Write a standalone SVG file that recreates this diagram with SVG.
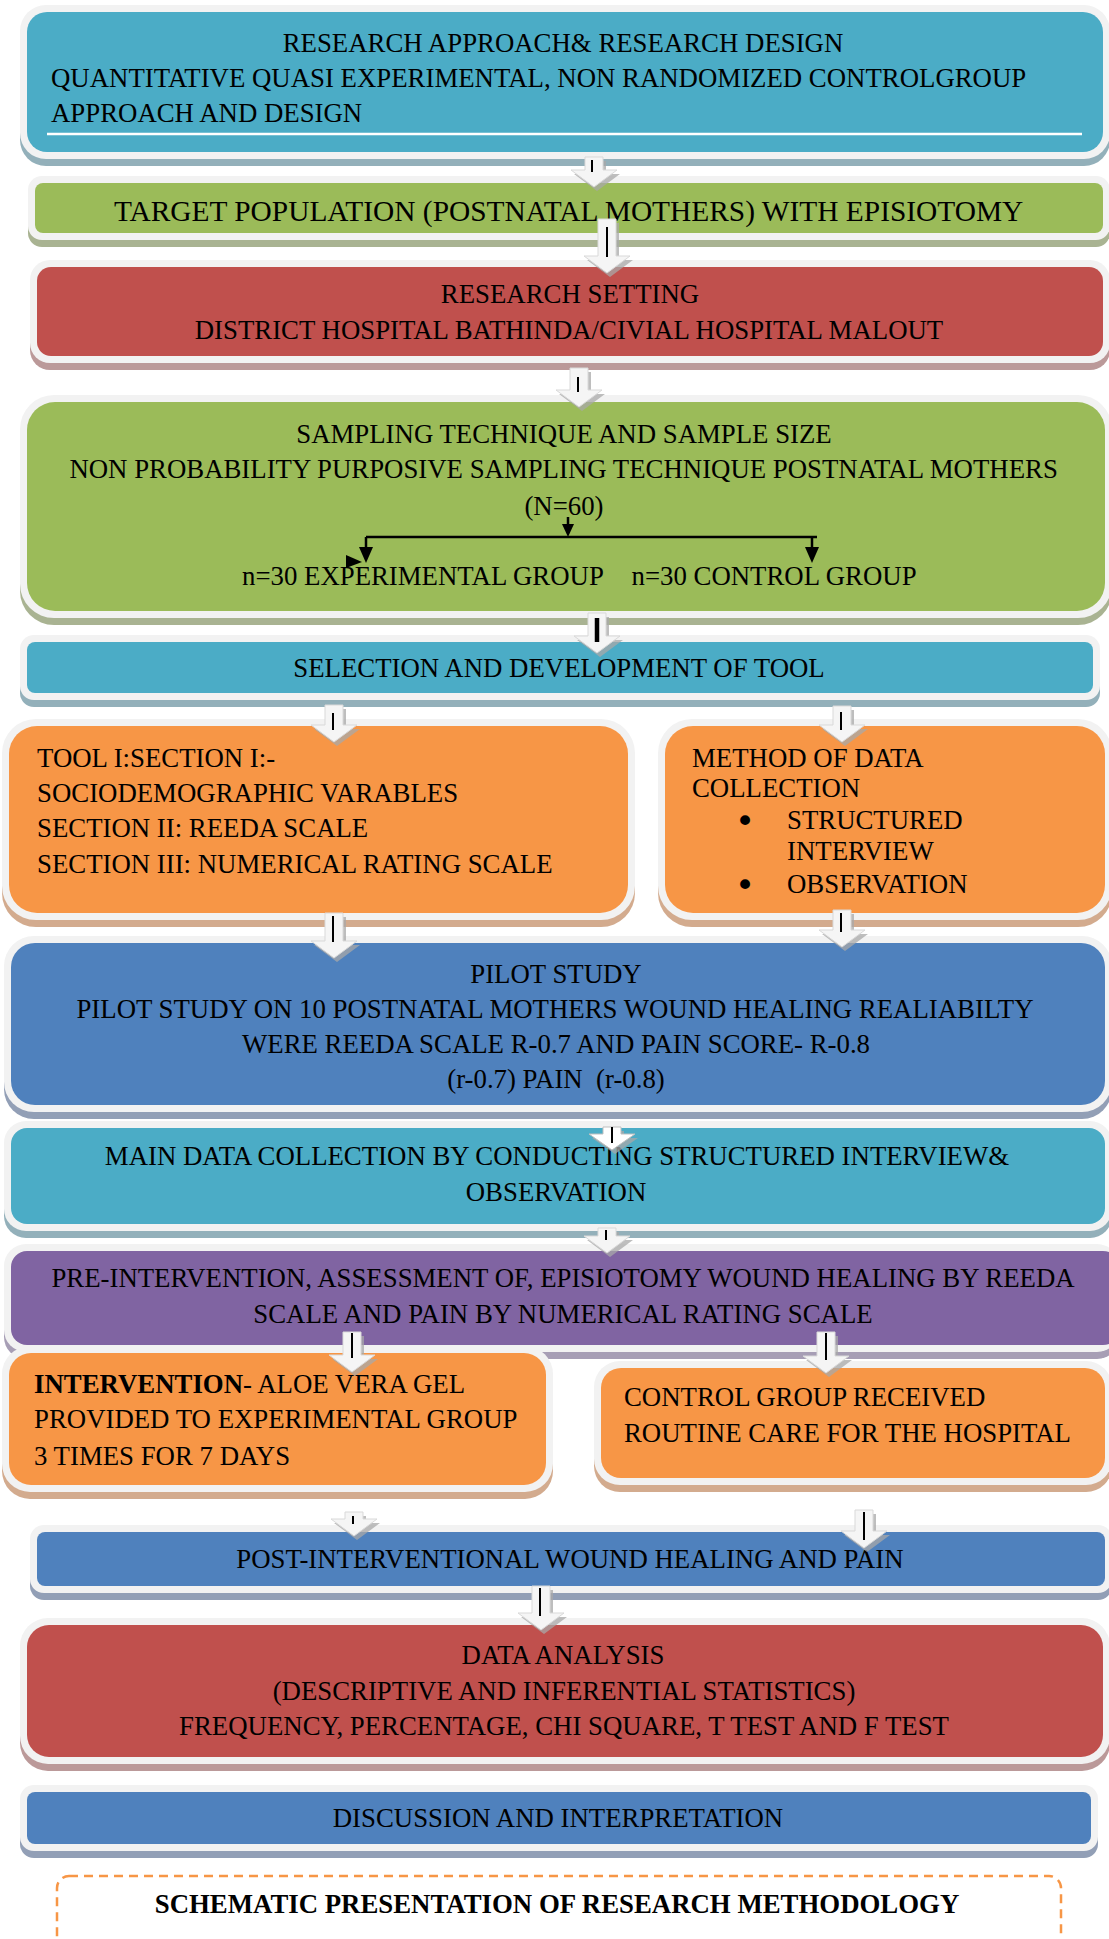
<svg xmlns="http://www.w3.org/2000/svg" width="1109" height="1939" viewBox="0 0 1109 1939">
<style>
.bg{fill:#FFFFFF}
.fr{fill:#F2F2F2}
.sh-teal{fill:#93B0BA}.sh-green{fill:#A9B392}.sh-red{fill:#BB9999}.sh-orange{fill:#D3AB8E}.sh-blue{fill:#929FB6}.sh-purple{fill:#A79EB5}
.teal{fill:#4BACC6}.green{fill:#9BBB59}.red{fill:#C0504D}.orange{fill:#F79646}.blue{fill:#4F81BD}.purple{fill:#8064A2}
.t{font-family:"Liberation Serif","Times New Roman",serif;font-size:26.8px;fill:#000}
.c{text-anchor:middle}
.b{font-weight:bold}
.blt{font-family:"DejaVu Sans",sans-serif;font-size:34px;fill:#000;text-anchor:middle}
.ash{fill:#A8A8A8;opacity:.75}
.ar{fill:#F5F5F5;stroke:#D9D9D9;stroke-width:1}
.al{stroke:#000;stroke-width:2}
.bk{stroke:#000;stroke-width:2.5;fill:none}
.bkh{fill:#000}
</style>
<rect class="bg" x="0" y="0" width="1109" height="1939"/>

<g id="n1">
<rect class="sh-teal" x="20" y="12" width="1090" height="154" rx="26"/>
<rect class="fr" x="20" y="5" width="1090" height="154" rx="26"/>
<rect class="teal" x="27" y="12" width="1076" height="140" rx="20"/>
<line x1="47" y1="134" x2="1082" y2="134" stroke="#FFFFFF" stroke-width="2.5"/>
<text class="t c" x="563" y="52">RESEARCH APPROACH&amp; RESEARCH DESIGN</text>
<text class="t" x="51" y="87">QUANTITATIVE QUASI EXPERIMENTAL, NON RANDOMIZED CONTROLGROUP</text>
<text class="t" x="51" y="122">APPROACH AND DESIGN</text>
</g>

<g id="n2">
<rect class="sh-green" x="28" y="183" width="1082" height="64" rx="14"/>
<rect class="fr" x="28" y="176" width="1082" height="64" rx="14"/>
<rect class="green" x="35" y="183" width="1068" height="50" rx="8"/>
<text class="t c" x="568.6" y="221" style="font-size:29.4px">TARGET POPULATION (POSTNATAL MOTHERS) WITH EPISIOTOMY</text>
</g>

<g id="n3">
<rect class="sh-red" x="30" y="267" width="1080" height="103" rx="20"/>
<rect class="fr" x="30" y="260" width="1080" height="103" rx="20"/>
<rect class="red" x="37" y="267" width="1066" height="89" rx="14"/>
<text class="t c" x="570" y="303">RESEARCH SETTING</text>
<text class="t c" x="569" y="339">DISTRICT HOSPITAL BATHINDA/CIVIAL HOSPITAL MALOUT</text>
</g>

<g id="n4">
<rect class="sh-green" x="20" y="402" width="1092" height="223" rx="34"/>
<rect class="fr" x="20" y="395" width="1092" height="223" rx="34"/>
<rect class="green" x="27" y="402" width="1078" height="209" rx="28"/>
<text class="t c" x="564" y="443">SAMPLING TECHNIQUE AND SAMPLE SIZE</text>
<text class="t c" x="563.6" y="478">NON PROBABILITY PURPOSIVE SAMPLING TECHNIQUE POSTNATAL MOTHERS</text>
<text class="t c" x="564" y="515">(N=60)</text>
<text class="t" x="242" y="585">n=30 EXPERIMENTAL GROUP</text>
<text class="t" x="631.5" y="585">n=30 CONTROL GROUP</text>
</g>

<g id="n5">
<rect class="sh-teal" x="20" y="642" width="1080" height="65" rx="14"/>
<rect class="fr" x="20" y="635" width="1080" height="65" rx="14"/>
<rect class="teal" x="27" y="642" width="1066" height="51" rx="8"/>
<text class="t c" x="559" y="677">SELECTION AND DEVELOPMENT OF TOOL</text>
</g>

<g id="n6">
<rect class="sh-orange" x="2" y="726" width="633" height="201" rx="34"/>
<rect class="fr" x="2" y="719" width="633" height="201" rx="34"/>
<rect class="orange" x="9" y="726" width="619" height="187" rx="28"/>
<text class="t" x="37" y="767">TOOL I:SECTION I:-</text>
<text class="t" x="37" y="802">SOCIODEMOGRAPHIC VARABLES</text>
<text class="t" x="37" y="837">SECTION II: REEDA SCALE</text>
<text class="t" x="37" y="873">SECTION III: NUMERICAL RATING SCALE</text>
</g>

<g id="n7">
<rect class="sh-orange" x="658" y="726" width="454" height="201" rx="34"/>
<rect class="fr" x="658" y="719" width="454" height="201" rx="34"/>
<rect class="orange" x="665" y="726" width="440" height="187" rx="28"/>
<text class="t" x="692" y="767">METHOD OF DATA</text>
<text class="t" x="692" y="797">COLLECTION</text>
<text class="blt" x="745" y="833">•</text>
<text class="t" x="787" y="829">STRUCTURED</text>
<text class="t" x="787" y="860">INTERVIEW</text>
<text class="blt" x="745" y="897">•</text>
<text class="t" x="787" y="893">OBSERVATION</text>
</g>

<g id="n8">
<rect class="sh-blue" x="4" y="943" width="1108" height="176" rx="30"/>
<rect class="fr" x="4" y="936" width="1108" height="176" rx="30"/>
<rect class="blue" x="11" y="943" width="1094" height="162" rx="24"/>
<text class="t c" x="556" y="983">PILOT STUDY</text>
<text class="t c" x="555" y="1018">PILOT STUDY ON 10 POSTNATAL MOTHERS WOUND HEALING REALIABILTY</text>
<text class="t c" x="556" y="1053">WERE REEDA SCALE R-0.7 AND PAIN SCORE- R-0.8</text>
<text class="t c" x="556" y="1088">(r-0.7) PAIN &#160;(r-0.8)</text>
</g>

<g id="n9">
<rect class="sh-teal" x="4" y="1128" width="1108" height="110" rx="22"/>
<rect class="fr" x="4" y="1121" width="1108" height="110" rx="22"/>
<rect class="teal" x="11" y="1128" width="1094" height="96" rx="16"/>
<text class="t c" x="557" y="1165">MAIN DATA COLLECTION BY CONDUCTING STRUCTURED INTERVIEW&amp;</text>
<text class="t c" x="556" y="1201">OBSERVATION</text>
</g>

<g id="n10">
<rect class="sh-purple" x="4" y="1251" width="1115" height="108" rx="22"/>
<rect class="fr" x="4" y="1244" width="1115" height="108" rx="22"/>
<rect class="purple" x="11" y="1251" width="1108" height="94" rx="16"/>
<text class="t c" x="563" y="1287">PRE-INTERVENTION, ASSESSMENT OF, EPISIOTOMY WOUND HEALING BY REEDA</text>
<text class="t c" x="563" y="1323">SCALE AND PAIN BY NUMERICAL RATING SCALE</text>
</g>

<g id="n11">
<rect class="sh-orange" x="2" y="1353" width="551" height="146" rx="28"/>
<rect class="fr" x="2" y="1346" width="551" height="146" rx="28"/>
<rect class="orange" x="9" y="1353" width="537" height="132" rx="22"/>
<text class="t" x="34" y="1393"><tspan class="b">INTERVENTION</tspan>- ALOE VERA GEL</text>
<text class="t" x="34" y="1428">PROVIDED TO EXPERIMENTAL GROUP</text>
<text class="t" x="34" y="1465">3 TIMES FOR 7 DAYS</text>
</g>

<g id="n12">
<rect class="sh-orange" x="594" y="1368" width="518" height="124" rx="26"/>
<rect class="fr" x="594" y="1361" width="518" height="124" rx="26"/>
<rect class="orange" x="601" y="1368" width="504" height="110" rx="20"/>
<text class="t" x="624" y="1406">CONTROL GROUP RECEIVED</text>
<text class="t" x="624" y="1442">ROUTINE CARE FOR THE HOSPITAL</text>
</g>

<g id="n13">
<rect class="sh-blue" x="30" y="1532" width="1082" height="68" rx="14"/>
<rect class="fr" x="30" y="1525" width="1082" height="68" rx="14"/>
<rect class="blue" x="37" y="1532" width="1068" height="54" rx="8"/>
<text class="t c" x="570" y="1568">POST-INTERVENTIONAL WOUND HEALING AND PAIN</text>
</g>

<g id="n14">
<rect class="sh-red" x="20" y="1625" width="1090" height="146" rx="28"/>
<rect class="fr" x="20" y="1618" width="1090" height="146" rx="28"/>
<rect class="red" x="27" y="1625" width="1076" height="132" rx="22"/>
<text class="t c" x="563" y="1664">DATA ANALYSIS</text>
<text class="t c" x="564" y="1700">(DESCRIPTIVE AND INFERENTIAL STATISTICS)</text>
<text class="t c" x="564" y="1735">FREQUENCY, PERCENTAGE, CHI SQUARE, T TEST AND F TEST</text>
</g>

<g id="n15">
<rect class="sh-blue" x="20" y="1792" width="1078" height="66" rx="14"/>
<rect class="fr" x="20" y="1785" width="1078" height="66" rx="14"/>
<rect class="blue" x="27" y="1792" width="1064" height="52" rx="8"/>
<text class="t c" x="558" y="1827">DISCUSSION AND INTERPRETATION</text>
</g>

<g id="n16">
<rect x="57" y="1876" width="1004" height="120" rx="12" fill="none" stroke="#F79646" stroke-width="2.5" stroke-dasharray="9 6"/>
<text class="t c b" x="557" y="1913">SCHEMATIC PRESENTATION OF RESEARCH METHODOLOGY</text>
</g>

<g id="connectors">
<polygon class="ash" points="588,161 606,161 606,174 620,174 597,191 574,174 588,174"/>
<polygon class="ar" points="585,157 603,157 603,170 617,170 594,187 571,170 585,170"/>
<line class="al" x1="592" y1="160" x2="592" y2="172"/>
<polygon class="ash" points="601,223 619,223 619,260 633,260 610,277 587,260 601,260"/>
<polygon class="ar" points="598,219 616,219 616,256 630,256 607,273 584,256 598,256"/>
<line class="al" x1="607" y1="227" x2="607" y2="257"/>
<polygon class="ash" points="573,372 591,372 591,394 605,394 582,411 559,394 573,394"/>
<polygon class="ar" points="570,368 588,368 588,390 602,390 579,407 556,390 570,390"/>
<line class="al" x1="578" y1="377" x2="578" y2="392"/>
<polygon class="ash" points="591,617 609,617 609,640 623,640 600,657 577,640 591,640"/>
<polygon class="ar" points="588,613 606,613 606,636 620,636 597,653 574,636 588,636"/>
<line x1="597" y1="618" x2="597" y2="642" stroke="#000" stroke-width="4.5"/>
<polygon class="ash" points="328,709 346,709 346,729 360,729 337,746 314,729 328,729"/>
<polygon class="ar" points="325,705 343,705 343,725 357,725 334,742 311,725 325,725"/>
<line class="al" x1="333" y1="713" x2="333" y2="730"/>
<polygon class="ash" points="836,710 854,710 854,729 868,729 845,746 822,729 836,729"/>
<polygon class="ar" points="833,706 851,706 851,725 865,725 842,742 819,725 833,725"/>
<line class="al" x1="841" y1="712" x2="841" y2="730"/>
<polygon class="ash" points="328,917 346,917 346,945 360,945 337,962 314,945 328,945"/>
<polygon class="ar" points="325,913 343,913 343,941 357,941 334,958 311,941 325,941"/>
<line class="al" x1="333" y1="916" x2="333" y2="942"/>
<polygon class="ash" points="836,914 854,914 854,934 868,934 845,951 822,934 836,934"/>
<polygon class="ar" points="833,910 851,910 851,930 865,930 842,947 819,930 833,930"/>
<line class="al" x1="841" y1="913" x2="841" y2="932"/>
<polygon class="ash" points="606,1131 624,1131 624,1138 638,1138 615,1154 592,1138 606,1138"/>
<polygon class="ar" points="603,1127 621,1127 621,1134 635,1134 612,1150 589,1134 603,1134" style="fill:#FFFFFF;stroke:#BFBFBF"/>
<line class="al" x1="612" y1="1127" x2="612" y2="1143"/>
<polygon class="ash" points="601,1232 619,1232 619,1240 633,1240 610,1257 587,1240 601,1240"/>
<polygon class="ar" points="598,1228 616,1228 616,1236 630,1236 607,1253 584,1236 598,1236"/>
<line class="al" x1="606" y1="1230" x2="606" y2="1240"/>
<polygon class="ash" points="346,1336 364,1336 364,1359 378,1359 355,1376 332,1359 346,1359"/>
<polygon class="ar" points="343,1332 361,1332 361,1355 375,1355 352,1372 329,1355 343,1355"/>
<line class="al" x1="352" y1="1333" x2="352" y2="1358"/>
<polygon class="ash" points="820,1336 838,1336 838,1360 852,1360 829,1377 806,1360 820,1360"/>
<polygon class="ar" points="817,1332 835,1332 835,1356 849,1356 826,1373 803,1356 817,1356"/>
<line class="al" x1="826" y1="1333" x2="826" y2="1360"/>
<polygon class="ash" points="348,1516 366,1516 366,1523 380,1523 357,1540 334,1523 348,1523"/>
<polygon class="ar" points="345,1512 363,1512 363,1519 377,1519 354,1536 331,1519 345,1519"/>
<line class="al" x1="353" y1="1516" x2="353" y2="1524"/>
<polygon class="ash" points="858,1514 876,1514 876,1535 890,1535 867,1552 844,1535 858,1535"/>
<polygon class="ar" points="855,1510 873,1510 873,1531 887,1531 864,1548 841,1531 855,1531"/>
<line class="al" x1="864" y1="1512" x2="864" y2="1540"/>
<polygon class="ash" points="535,1590 553,1590 553,1617 567,1617 544,1634 521,1617 535,1617"/>
<polygon class="ar" points="532,1586 550,1586 550,1613 564,1613 541,1630 518,1613 532,1613"/>
<line class="al" x1="540" y1="1588" x2="540" y2="1616"/>
<line class="bk" x1="568" y1="517" x2="568" y2="528"/>
<polygon class="bkh" points="562,524 574,524 568,537"/>
<line class="bk" x1="366" y1="537" x2="817" y2="537"/>
<line class="bk" x1="366" y1="537" x2="366" y2="550"/>
<polygon class="bkh" points="359,547 373,547 366,563"/>
<line class="bk" x1="812" y1="537" x2="812" y2="550"/>
<polygon class="bkh" points="805,547 819,547 812,563"/>
<polygon class="bkh" points="346,555 362,562 346,568"/>
</g>
</svg>
